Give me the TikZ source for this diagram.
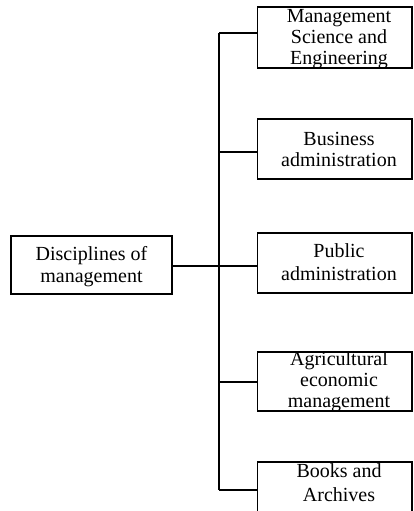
\documentclass[tikz,border=0pt]{standalone}
\usepackage{fontspec}
\setmainfont{Liberation Serif}
\begin{document}
\begin{tikzpicture}[x=1pt,y=-1pt,
  box/.style={draw=black,line width=1.7pt,rectangle,inner sep=0pt,minimum width=154.5pt},
  lbl/.style={inner sep=0pt,align=center,font=\fontsize{20}{21}\selectfont},
  conn/.style={draw=black,line width=1.7pt}]
\useasboundingbox (0,0) rectangle (413,511);
\clip (0,0) rectangle (413,511);
% left box
\node[box,minimum width=161pt,minimum height=58pt] (dis) at (91.5,265) {};
\node[lbl,font=\fontsize{20}{22}\selectfont] (tdis) at (91.5,267) {Disciplines of\\management};
% right boxes
\node[box,minimum height=61pt] (b1) at (334.75,37.5) {};
\node[lbl,font=\fontsize{20}{20.7}\selectfont] (t1) at (339,39) {Management\\Science and\\Engineering};
\node[box,minimum height=60pt] (b2) at (334.75,149) {};
\node[lbl] (t2) at (339,149) {Business\\administration};
\node[box,minimum height=60pt] (b3) at (334.75,263) {};
\node[lbl,font=\fontsize{20}{22.7}\selectfont] (t3) at (339,262) {Public\\administration};
\node[box,minimum height=59pt] (b4) at (334.75,381.5) {};
\node[lbl,font=\fontsize{20}{21.2}\selectfont] (t4) at (339,381.5) {Agricultural\\economic\\management};
\node[box,minimum height=80pt] (b5) at (334.75,502) {};
\node[lbl,font=\fontsize{20}{23.3}\selectfont] (t5) at (339,482.6) {Books and\\Archives};
% junctions on the trunk
\coordinate (j1) at (219,33);
\coordinate (j2) at (219,152);
\coordinate (j3) at (219,266);
\coordinate (j4) at (219,382);
\coordinate (j5) at (219,490);
\draw[conn] (j1) -- (j5);
\draw[conn] (j1) -- (b1.west |- j1);
\draw[conn] (j2) -- (b2.west |- j2);
\draw[conn] (dis.east |- j3) -- (b3.west |- j3);
\draw[conn] (j4) -- (b4.west |- j4);
\draw[conn] (j5) -- (b5.west |- j5);
\end{tikzpicture}
\end{document}
